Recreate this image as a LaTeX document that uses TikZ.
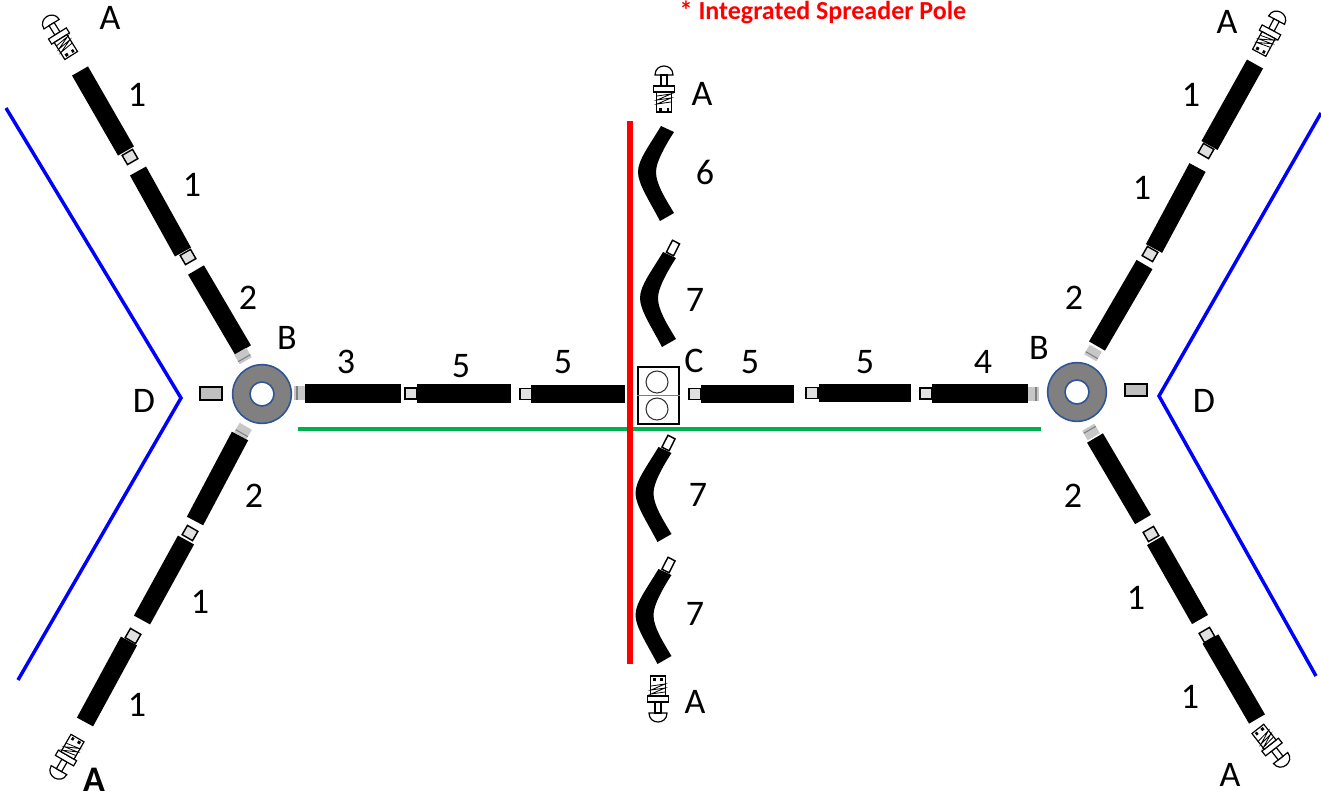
\documentclass[tikz,border=0pt]{standalone}
\usepackage{fontspec}
\setmainfont{Carlito}
\definecolor{ringblue}{HTML}{2F5597}
\definecolor{polegreen}{HTML}{00B050}
\tikzset{
  pics/greycap/.style={code={
    \fill[fill=black!22] (-5.5,-7) rectangle (5.5,7);
    \draw[black!50,line width=0.8pt] (-2.5,-7) -- (-2.5,7);
  }},
  pics/bendrod/.style={code={
    \fill (14,-46) .. controls (2,-26) and (-9,-12) .. (-9,0) .. controls (-9,12) and (2,28) .. (13,49) -- (27,41) .. controls (18,26) and (9,12) .. (9,0) .. controls (9,-10) and (18,-26) .. (27,-40) -- cycle;
  }},
  pics/bendtip/.style={code={
    \node[tenon,rotate=63,fill=white,minimum width=10pt,minimum height=6pt] (tip) at (24,-50) {};
    \fill (14,-46) .. controls (2,-26) and (-9,-12) .. (-9,0) .. controls (-9,12) and (2,28) .. (13,49) -- (27,41) .. controls (18,26) and (9,12) .. (9,0) .. controls (9,-10) and (18,-26) .. (27,-40) -- cycle;
  }},
  pics/bolt/.style={code={
    \draw[boltline,fill=white] (-9,-14) .. controls (-9,-26) and (9,-26) .. (9,-14) -- cycle;
    \draw[boltline,fill=white] (-3,-14) rectangle (3,-3);
    \draw[boltline,fill=white] (-10.5,-3) rectangle (10.5,3);
    \draw[boltline,fill=white] (-7.5,3) rectangle (7.5,23);
    \draw[black,line width=0.6pt] (-7,7) -- (7,5) -- (-7,11) -- (7,9) -- (-7,15) -- (7,13);
    \fill (-5,18.5) rectangle (-2,21.5);
    \fill (2.5,18.5) rectangle (5,21.5);
  }}
}
\begin{document}
\begin{tikzpicture}[
  x=0.75pt, y=-0.75pt,
  rod/.style={line width=13.8pt, black},
  tenon/.style={rectangle, draw=black, line width=1.1pt, fill=black!12, minimum width=8pt, minimum height=9pt, inner sep=0pt},
  stub/.style={rectangle, draw=black, line width=1.3pt, fill=black!25, minimum width=16pt, minimum height=9.5pt, inner sep=0pt},
  ring/.style={circle, draw=ringblue, line width=1.2pt, fill=black!50, minimum size=44pt, inner sep=0pt},
  hole/.style={circle, draw=ringblue, line width=1.2pt, fill=white, minimum size=18pt, inner sep=0pt},
  port/.style={circle, draw=black!80, line width=0.8pt, fill=white, minimum size=16.5pt, inner sep=0pt},
  boltline/.style={black, line width=0.9pt},
  wire/.style={line width=2.6pt, blue, line join=miter},
  lbl/.style={font=\fontsize{27}{32}\selectfont, inner sep=0pt}
]
\useasboundingbox (0,0) rectangle (1321,801);

% guide lines
\draw[wire] (6,108) -- (181,398) -- (18,680);
\draw[wire] (1321,113) -- (1159,396) -- (1316,676);
\draw[polegreen,line width=3pt] (298,429) -- (1041,429);
\draw[red,line width=3.8pt] (630,121) -- (630,664);

% upper left arm
\pic[rotate=32] (boltUL) at (59,36) {bolt};
\node[tenon,rotate=-60] (tenonUL1) at (130,157) {};
\draw[rod] (80,71) -- (126,151);
\node[tenon,rotate=-60] (tenonUL2) at (188,257) {};
\draw[rod] (138,171) -- (183,252);
\draw[rod] (196,270) -- (243,350);
\pic[rotate=120] (capUL) at (243,356) {greycap};

% lower left arm
\pic[rotate=60] (capLL) at (243,431) {greycap};
\draw[rod] (240,436) -- (195,521);
\node[tenon,rotate=60] (tenonLL1) at (190,533) {};
\draw[rod] (186,540) -- (142,620);
\node[tenon,rotate=60] (tenonLL2) at (133,636) {};
\draw[rod] (129,641) -- (85,722);
\pic[rotate=150] (boltLL) at (66,758) {bolt};

% left hub and main run
\node[stub] (stubL) at (211,393.5) {};
\node[ring] (hubL) at (262,394) {};
\node[hole] (holeL) at (262,394) {};
\pic (capML) at (299.5,393) {greycap};
\draw[rod] (305,393.5) -- (401,393.5);
\node[tenon,rotate=90] (tenonM1) at (411,393.5) {};
\draw[rod] (417,393.5) -- (511,393.5);
\node[tenon,rotate=90] (tenonM2) at (526,394) {};
\draw[rod] (531,394) -- (625,394);

% centre block
\node[rectangle,draw=black,line width=1.2pt,minimum width=31pt,minimum height=43pt,inner sep=0pt] (block) at (658.5,395.5) {};
\draw[black!50,line width=1pt] (block.west) -- (block.east);
\node[port] (portT) at (657,382) {};
\node[port] (portB) at (657,409) {};

% right main run and hub
\node[tenon,rotate=90] (tenonM3) at (695,394) {};
\draw[rod] (701,394) -- (794,394);
\node[tenon,rotate=90] (tenonM4) at (812,393) {};
\draw[rod] (819,393) -- (911,393);
\node[tenon,rotate=90] (tenonM5) at (926,393.5) {};
\draw[rod] (932,393.5) -- (1028,393.5);
\pic[rotate=180] (capMR) at (1033.5,394) {greycap};
\node[ring] (hubR) at (1077,392) {};
\node[hole] (holeR) at (1077,392) {};
\node[stub] (stubR) at (1136,390) {};

% upper right arm
\pic[rotate=-28] (boltUR) at (1270,32.5) {bolt};
\node[tenon,rotate=60] (tenonUR1) at (1206,151) {};
\draw[rod] (1255,64) -- (1209.5,145.5);
\node[tenon,rotate=60] (tenonUR2) at (1150,254) {};
\draw[rod] (1197.5,167.5) -- (1154,248.5);
\draw[rod] (1144.5,264.5) -- (1097,346);
\pic[rotate=60] (capUR) at (1093,353) {greycap};

% lower right arm
\pic[rotate=-60] (capLR) at (1091,432) {greycap};
\draw[rod] (1095,438) -- (1143,519.5);
\node[tenon,rotate=-60] (tenonLR1) at (1151,534) {};
\draw[rod] (1155,540.5) -- (1200,619.5);
\node[tenon,rotate=-60] (tenonLR2) at (1207,635) {};
\draw[rod] (1210.5,639) -- (1257,719);
\pic[rotate=-142] (boltLR) at (1272,747) {bolt};

% centre column
\pic (boltT) at (664,89) {bolt};
\pic (bend6) at (647,172) {bendrod};
\pic (bend7a) at (649,298) {bendtip};
\pic (bend7b) at (644.5,493) {bendtip};
\pic (bend7c) at (644.5,615) {bendtip};
\pic[rotate=180] (boltB) at (658,699) {bolt};

% labels
\node[font=\fontsize{19.5}{23}\selectfont\bfseries, text=red, inner sep=0pt] (title) at (823,12) {* Integrated Spreader Pole};
\node[lbl] (a1) at (110,18) {A};
\node[lbl] (n1) at (137,95) {1};
\node[lbl] (n2) at (192,185) {1};
\node[lbl] (n3) at (248,298) {2};
\node[lbl] (b1) at (287,338) {B};
\node[lbl] (d1) at (144,401) {D};
\node[lbl] (n4) at (346,362) {3};
\node[lbl] (n5) at (461,366) {5};
\node[lbl] (n6) at (563,362) {5};
\node[lbl] (a2) at (702,94) {A};
\node[lbl] (n7) at (705,172) {6};
\node[lbl] (n8) at (695,300) {7};
\node[lbl] (c1) at (694,361) {C};
\node[lbl] (n9) at (750,362) {5};
\node[lbl] (n10) at (865,362) {5};
\node[lbl] (n11) at (983,362) {4};
\node[lbl] (b2) at (1039,348) {B};
\node[lbl] (d2) at (1204,401) {D};
\node[lbl] (n12) at (698,495) {7};
\node[lbl] (n13) at (695,614) {7};
\node[lbl] (a3) at (695,702) {A};
\node[lbl] (n14) at (254,496) {2};
\node[lbl] (n15) at (200,602) {1};
\node[lbl] (n16) at (137,705) {1};
\node[lbl,font=\fontsize{27}{32}\selectfont\bfseries] (a4) at (94,780) {A};
\node[lbl] (a5) at (1227,22) {A};
\node[lbl] (n17) at (1191,95) {1};
\node[lbl] (n18) at (1142,188) {1};
\node[lbl] (n19) at (1074,298) {2};
\node[lbl] (n20) at (1073,496) {2};
\node[lbl] (n21) at (1136,598) {1};
\node[lbl] (n22) at (1190,697) {1};
\node[lbl] (a6) at (1230,775) {A};
\end{tikzpicture}
\end{document}
